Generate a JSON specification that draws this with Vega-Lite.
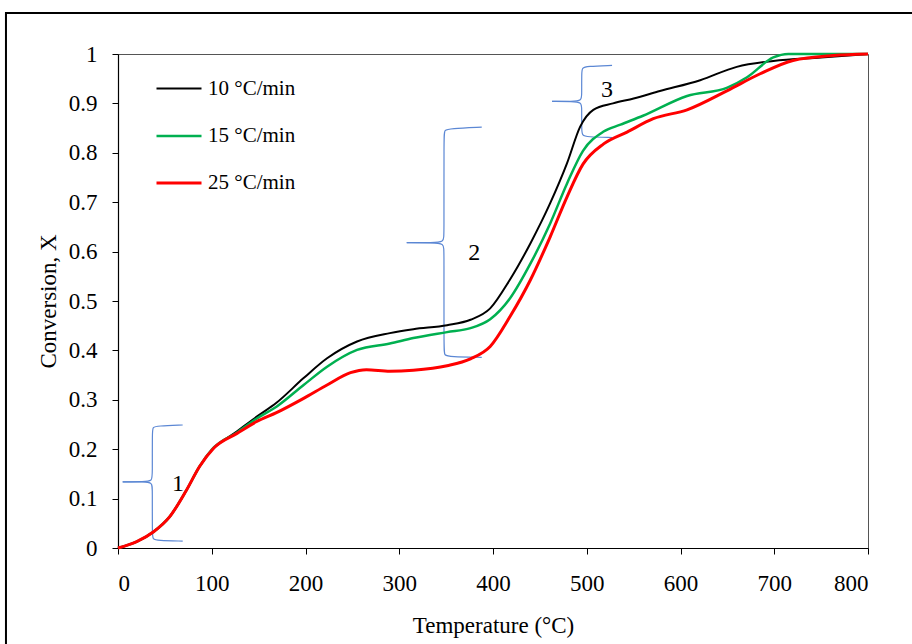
{
  "$schema": "https://vega.github.io/schema/vega-lite/v6.json",
  "width": 750,
  "height": 494,
  "autosize": {"type": "none"},
  "padding": {"left": 118, "top": 54, "right": 44, "bottom": 96},
  "background": "white",
  "config": {
    "view": {"stroke": "#555555", "strokeWidth": 1},
    "font": "Liberation Serif",
    "axis": {
      "grid": false,
      "domainColor": "#000000",
      "domainWidth": 1.2,
      "tickColor": "#000000",
      "tickSize": 6,
      "labelFont": "Liberation Serif",
      "labelFontSize": 23,
      "labelColor": "#000000",
      "titleFont": "Liberation Serif",
      "titleFontSize": 23,
      "titleFontWeight": "normal",
      "titleColor": "#000000"
    },
    "legend": {
      "labelFont": "Liberation Serif",
      "labelFontSize": 21,
      "labelColor": "#000000"
    }
  },
  "datasets": {
    "frame": [{"name": "frame"}],
    "curves": [
      {"rate": "10 °C/min", "T": 0, "X": 0},
      {"rate": "10 °C/min", "T": 20, "X": 0.013},
      {"rate": "10 °C/min", "T": 38, "X": 0.033},
      {"rate": "10 °C/min", "T": 55, "X": 0.063},
      {"rate": "10 °C/min", "T": 73, "X": 0.117},
      {"rate": "10 °C/min", "T": 87, "X": 0.165},
      {"rate": "10 °C/min", "T": 100, "X": 0.198},
      {"rate": "10 °C/min", "T": 127, "X": 0.236},
      {"rate": "10 °C/min", "T": 148, "X": 0.266},
      {"rate": "10 °C/min", "T": 169, "X": 0.294},
      {"rate": "10 °C/min", "T": 198, "X": 0.344},
      {"rate": "10 °C/min", "T": 223, "X": 0.384},
      {"rate": "10 °C/min", "T": 255, "X": 0.418},
      {"rate": "10 °C/min", "T": 290, "X": 0.435},
      {"rate": "10 °C/min", "T": 315, "X": 0.443},
      {"rate": "10 °C/min", "T": 351, "X": 0.451},
      {"rate": "10 °C/min", "T": 376, "X": 0.462},
      {"rate": "10 °C/min", "T": 397, "X": 0.485},
      {"rate": "10 °C/min", "T": 418, "X": 0.543},
      {"rate": "10 °C/min", "T": 440, "X": 0.617},
      {"rate": "10 °C/min", "T": 461, "X": 0.698},
      {"rate": "10 °C/min", "T": 479, "X": 0.779},
      {"rate": "10 °C/min", "T": 493, "X": 0.853},
      {"rate": "10 °C/min", "T": 507, "X": 0.887},
      {"rate": "10 °C/min", "T": 528, "X": 0.9},
      {"rate": "10 °C/min", "T": 550, "X": 0.91},
      {"rate": "10 °C/min", "T": 578, "X": 0.925},
      {"rate": "10 °C/min", "T": 621, "X": 0.947},
      {"rate": "10 °C/min", "T": 660, "X": 0.974},
      {"rate": "10 °C/min", "T": 699, "X": 0.986},
      {"rate": "10 °C/min", "T": 750, "X": 0.993},
      {"rate": "10 °C/min", "T": 800, "X": 1.0},
      {"rate": "15 °C/min", "T": 0, "X": 0},
      {"rate": "15 °C/min", "T": 20, "X": 0.013},
      {"rate": "15 °C/min", "T": 38, "X": 0.033},
      {"rate": "15 °C/min", "T": 55, "X": 0.063},
      {"rate": "15 °C/min", "T": 73, "X": 0.117},
      {"rate": "15 °C/min", "T": 87, "X": 0.165},
      {"rate": "15 °C/min", "T": 100, "X": 0.199},
      {"rate": "15 °C/min", "T": 127, "X": 0.234},
      {"rate": "15 °C/min", "T": 148, "X": 0.262},
      {"rate": "15 °C/min", "T": 169, "X": 0.286},
      {"rate": "15 °C/min", "T": 198, "X": 0.33},
      {"rate": "15 °C/min", "T": 223, "X": 0.367},
      {"rate": "15 °C/min", "T": 255, "X": 0.401},
      {"rate": "15 °C/min", "T": 290, "X": 0.414},
      {"rate": "15 °C/min", "T": 315, "X": 0.425},
      {"rate": "15 °C/min", "T": 351, "X": 0.437},
      {"rate": "15 °C/min", "T": 376, "X": 0.445},
      {"rate": "15 °C/min", "T": 397, "X": 0.463},
      {"rate": "15 °C/min", "T": 418, "X": 0.505},
      {"rate": "15 °C/min", "T": 440, "X": 0.576},
      {"rate": "15 °C/min", "T": 461, "X": 0.657},
      {"rate": "15 °C/min", "T": 479, "X": 0.738},
      {"rate": "15 °C/min", "T": 496, "X": 0.804},
      {"rate": "15 °C/min", "T": 518, "X": 0.843},
      {"rate": "15 °C/min", "T": 536, "X": 0.857},
      {"rate": "15 °C/min", "T": 560, "X": 0.875},
      {"rate": "15 °C/min", "T": 607, "X": 0.915},
      {"rate": "15 °C/min", "T": 650, "X": 0.932},
      {"rate": "15 °C/min", "T": 671, "X": 0.953},
      {"rate": "15 °C/min", "T": 699, "X": 0.993},
      {"rate": "15 °C/min", "T": 715, "X": 1.0},
      {"rate": "15 °C/min", "T": 800, "X": 1.0},
      {"rate": "25 °C/min", "T": 0, "X": 0},
      {"rate": "25 °C/min", "T": 20, "X": 0.013},
      {"rate": "25 °C/min", "T": 38, "X": 0.033},
      {"rate": "25 °C/min", "T": 55, "X": 0.063},
      {"rate": "25 °C/min", "T": 73, "X": 0.117},
      {"rate": "25 °C/min", "T": 87, "X": 0.165},
      {"rate": "25 °C/min", "T": 102, "X": 0.202},
      {"rate": "25 °C/min", "T": 127, "X": 0.232},
      {"rate": "25 °C/min", "T": 148, "X": 0.256},
      {"rate": "25 °C/min", "T": 169, "X": 0.274},
      {"rate": "25 °C/min", "T": 198, "X": 0.303},
      {"rate": "25 °C/min", "T": 223, "X": 0.33},
      {"rate": "25 °C/min", "T": 248, "X": 0.355},
      {"rate": "25 °C/min", "T": 265, "X": 0.361},
      {"rate": "25 °C/min", "T": 290, "X": 0.358},
      {"rate": "25 °C/min", "T": 315, "X": 0.36},
      {"rate": "25 °C/min", "T": 351, "X": 0.369},
      {"rate": "25 °C/min", "T": 376, "X": 0.383},
      {"rate": "25 °C/min", "T": 397, "X": 0.408},
      {"rate": "25 °C/min", "T": 418, "X": 0.468},
      {"rate": "25 °C/min", "T": 440, "X": 0.543},
      {"rate": "25 °C/min", "T": 461, "X": 0.63},
      {"rate": "25 °C/min", "T": 479, "X": 0.711},
      {"rate": "25 °C/min", "T": 496, "X": 0.777},
      {"rate": "25 °C/min", "T": 518, "X": 0.818},
      {"rate": "25 °C/min", "T": 543, "X": 0.842},
      {"rate": "25 °C/min", "T": 571, "X": 0.869},
      {"rate": "25 °C/min", "T": 607, "X": 0.887},
      {"rate": "25 °C/min", "T": 650, "X": 0.926},
      {"rate": "25 °C/min", "T": 685, "X": 0.96},
      {"rate": "25 °C/min", "T": 720, "X": 0.987},
      {"rate": "25 °C/min", "T": 763, "X": 0.997},
      {"rate": "25 °C/min", "T": 800, "X": 1.0}
    ],
    "braces": [
      {"seg": "1a", "ord": 1, "T": 69, "X": 0.249},
      {"seg": "1a", "ord": 2, "T": 42, "X": 0.247},
      {"seg": "1a", "ord": 3, "T": 37, "X": 0.245},
      {"seg": "1a", "ord": 4, "T": 36.6, "X": 0.236},
      {"seg": "1a", "ord": 5, "T": 36.6, "X": 0.148},
      {"seg": "1a", "ord": 6, "T": 36.6, "X": 0.136},
      {"seg": "1a", "ord": 7, "T": 28, "X": 0.134},
      {"seg": "1a", "ord": 8, "T": 5, "X": 0.134},
      {"seg": "1b", "ord": 1, "T": 5, "X": 0.134},
      {"seg": "1b", "ord": 2, "T": 28, "X": 0.134},
      {"seg": "1b", "ord": 3, "T": 36.6, "X": 0.132},
      {"seg": "1b", "ord": 4, "T": 36.6, "X": 0.12},
      {"seg": "1b", "ord": 5, "T": 36.6, "X": 0.027},
      {"seg": "1b", "ord": 6, "T": 37, "X": 0.018},
      {"seg": "1b", "ord": 7, "T": 42, "X": 0.015},
      {"seg": "1b", "ord": 8, "T": 69, "X": 0.014},
      {"seg": "2a", "ord": 1, "T": 388, "X": 0.852},
      {"seg": "2a", "ord": 2, "T": 354, "X": 0.849},
      {"seg": "2a", "ord": 3, "T": 348, "X": 0.846},
      {"seg": "2a", "ord": 4, "T": 347.7, "X": 0.835},
      {"seg": "2a", "ord": 5, "T": 347.7, "X": 0.632},
      {"seg": "2a", "ord": 6, "T": 347.7, "X": 0.62},
      {"seg": "2a", "ord": 7, "T": 336, "X": 0.618},
      {"seg": "2a", "ord": 8, "T": 308, "X": 0.618},
      {"seg": "2b", "ord": 1, "T": 308, "X": 0.618},
      {"seg": "2b", "ord": 2, "T": 336, "X": 0.618},
      {"seg": "2b", "ord": 3, "T": 347.7, "X": 0.616},
      {"seg": "2b", "ord": 4, "T": 347.7, "X": 0.604},
      {"seg": "2b", "ord": 5, "T": 347.7, "X": 0.4},
      {"seg": "2b", "ord": 6, "T": 348, "X": 0.39},
      {"seg": "2b", "ord": 7, "T": 354, "X": 0.387},
      {"seg": "2b", "ord": 8, "T": 388, "X": 0.386},
      {"seg": "3a", "ord": 1, "T": 527, "X": 0.977},
      {"seg": "3a", "ord": 2, "T": 500, "X": 0.975},
      {"seg": "3a", "ord": 3, "T": 495, "X": 0.972},
      {"seg": "3a", "ord": 4, "T": 494.6, "X": 0.962},
      {"seg": "3a", "ord": 5, "T": 494.6, "X": 0.917},
      {"seg": "3a", "ord": 6, "T": 494.6, "X": 0.906},
      {"seg": "3a", "ord": 7, "T": 485, "X": 0.904},
      {"seg": "3a", "ord": 8, "T": 463, "X": 0.904},
      {"seg": "3b", "ord": 1, "T": 463, "X": 0.904},
      {"seg": "3b", "ord": 2, "T": 485, "X": 0.904},
      {"seg": "3b", "ord": 3, "T": 494.6, "X": 0.902},
      {"seg": "3b", "ord": 4, "T": 494.6, "X": 0.891},
      {"seg": "3b", "ord": 5, "T": 494.6, "X": 0.846},
      {"seg": "3b", "ord": 6, "T": 495, "X": 0.836},
      {"seg": "3b", "ord": 7, "T": 500, "X": 0.832},
      {"seg": "3b", "ord": 8, "T": 527, "X": 0.831}
    ],
    "labels": [
      {"label": "1", "T": 64, "X": 0.13},
      {"label": "2", "T": 380, "X": 0.597},
      {"label": "3", "T": 521.6, "X": 0.927}
    ]
  },
  "layer": [
    {
      "data": {"name": "frame"},
      "mark": {"type": "rect", "clip": false, "fillOpacity": 0, "stroke": "#000000", "strokeWidth": 2},
      "encoding": {
        "x": {"datum": -119.5, "type": "quantitative", "scale": {"domain": [0, 800], "nice": false}},
        "x2": {"datum": 870},
        "y": {"datum": 1.083, "type": "quantitative", "scale": {"domain": [0, 1], "nice": false}},
        "y2": {"datum": -0.25}
      }
    },
    {
      "data": {"name": "braces"},
      "mark": {"type": "line", "interpolate": "basis", "color": "#5b87d4", "strokeWidth": 1.2, "clip": false},
      "encoding": {
        "x": {"field": "T", "type": "quantitative"},
        "y": {"field": "X", "type": "quantitative"},
        "detail": {"field": "seg"},
        "order": {"field": "ord", "type": "quantitative"}
      }
    },
    {
      "data": {"name": "curves"},
      "mark": {"type": "line", "interpolate": "monotone"},
      "encoding": {
        "x": {
          "field": "T", "type": "quantitative",
          "axis": {"title": "Temperature (°C)", "values": [0, 100, 200, 300, 400, 500, 600, 700, 800], "labelPadding": 18, "titlePadding": 19, "labelFont": "Liberation Serif", "titleFont": "Liberation Serif"}
        },
        "y": {
          "field": "X", "type": "quantitative",
          "axis": {"title": "Conversion, X", "values": [0, 0.1, 0.2, 0.3, 0.4, 0.5, 0.6, 0.7, 0.8, 0.9, 1], "format": "~g", "labelPadding": 15, "titlePadding": 8, "labelFont": "Liberation Serif", "titleFont": "Liberation Serif"}
        },
        "color": {
          "field": "rate", "type": "nominal",
          "scale": {"domain": ["10 °C/min", "15 °C/min", "25 °C/min"], "range": ["#000000", "#00b050", "#ff0000"]},
          "legend": {"title": null, "orient": "none", "legendX": 37, "legendY": 11, "symbolType": "stroke", "symbolSize": 2025, "symbolStrokeWidth": 2.5, "rowPadding": 13, "labelOffset": 5, "padding": 0, "labelFont": "Liberation Serif", "labelFontSize": 21}
        },
        "strokeWidth": {
          "field": "rate", "type": "nominal",
          "scale": {"domain": ["10 °C/min", "15 °C/min", "25 °C/min"], "range": [2, 3, 3]},
          "legend": null
        }
      }
    },
    {
      "data": {"name": "labels"},
      "mark": {"type": "text", "font": "Liberation Serif", "fontSize": 24, "color": "#000000"},
      "encoding": {
        "x": {"field": "T", "type": "quantitative"},
        "y": {"field": "X", "type": "quantitative"},
        "text": {"field": "label"}
      }
    }
  ]
}
